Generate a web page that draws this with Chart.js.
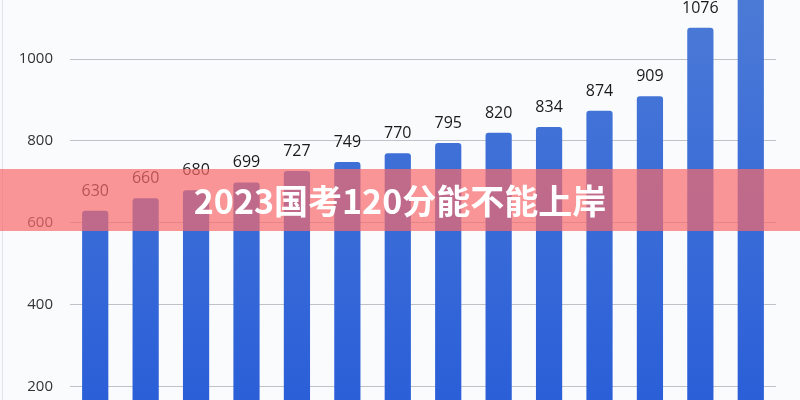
<!DOCTYPE html>
<html>
<head>
<meta charset="utf-8">
<script src="https://cdn.jsdelivr.net/npm/chart.js@4.4.0/dist/chart.umd.min.js"></script>
<style>
  html, body { margin: 0; padding: 0; background: #fafbfd; }
  #wrap { position: relative; width: 800px; height: 400px; overflow: hidden; }
  #wrap::before { content: ''; position: absolute; left: 2px; top: 0; bottom: 0; width: 1px; background: #e2e4ea; }
  #banner {
    position: absolute; left: 0; top: 169px; width: 800px; height: 62px;
    background: rgba(248, 105, 105, 0.7);
    color: #fff; font: bold 34px "Noto Sans CJK SC", sans-serif;
    text-align: center; line-height: 62px;
  }
</style>
</head>
<body>
<div id="wrap">
  <canvas id="scoreChart" width="800" height="400"></canvas>
  <div id="banner">2023国考120分能不能上岸</div>
</div>
<script>
// dados (a última barra sai do topo, valor estimado)
const categories = ['1', '2', '3', '4', '5', '6', '7', '8', '9', '10', '11', '12', '13', '14'];
const scores = [630, 660, 680, 699, 727, 749, 770, 795, 820, 834, 874, 909, 1076, 1180];
const yTicks = [200, 400, 600, 800, 1000];

// rótulos em cima de cada barra
const barLabels = {
    id: 'barLabels',
    afterDatasetsDraw(chart) {
        const ctx = chart.ctx;
        const meta = chart.getDatasetMeta(0);
        ctx.save();
        ctx.font = '500 16px "Open Sans", sans-serif';
        ctx.fillStyle = '#1a1a1a';
        ctx.textAlign = 'center';
        ctx.textBaseline = 'alphabetic';
        meta.data.forEach((bar, i) => {
            ctx.fillText(String(scores[i]), bar.x, bar.y - 15);
        });
        ctx.restore();
    }
};

function barGradient(context) {
    const area = context.chart.chartArea;
    if (!area) return '#3a6ad4';
    const g = context.chart.ctx.createLinearGradient(0, area.top, 0, area.bottom);
    g.addColorStop(0, '#4b7ad6');
    g.addColorStop(1, '#2b5fd8');
    return g;
}

const ctx = document.getElementById('scoreChart').getContext('2d');
new Chart(ctx, {
    type: 'bar',
    data: {
        labels: categories,
        datasets: [{
            data: scores,
            backgroundColor: barGradient,
            borderRadius: 3,
            borderSkipped: 'start',
            barPercentage: 0.52,
            categoryPercentage: 1
        }]
    },
    options: {
        responsive: false,
        animation: false,
        layout: { padding: { left: 0, right: 24, top: 0, bottom: 0 } },
        plugins: { legend: { display: false }, tooltip: { enabled: false } },
        scales: {
            x: { display: false },
            y: {
                min: 168,
                max: 1144,
                afterBuildTicks(scale) {
                    scale.ticks = yTicks.map(v => ({ value: v }));
                },
                afterFit(scale) {
                    scale.width = 70;
                    scale.paddingTop = 0;
                    scale.paddingBottom = 0;
                },
                border: { display: false },
                grid: { color: '#bfc2c8', lineWidth: 1, drawTicks: false },
                ticks: {
                    padding: 17,
                    color: '#333333',
                    font: { family: 'Open Sans', size: 15 },
                    callback: v => String(v)
                }
            }
        }
    },
    plugins: [barLabels]
});
</script>
</body>
</html>
